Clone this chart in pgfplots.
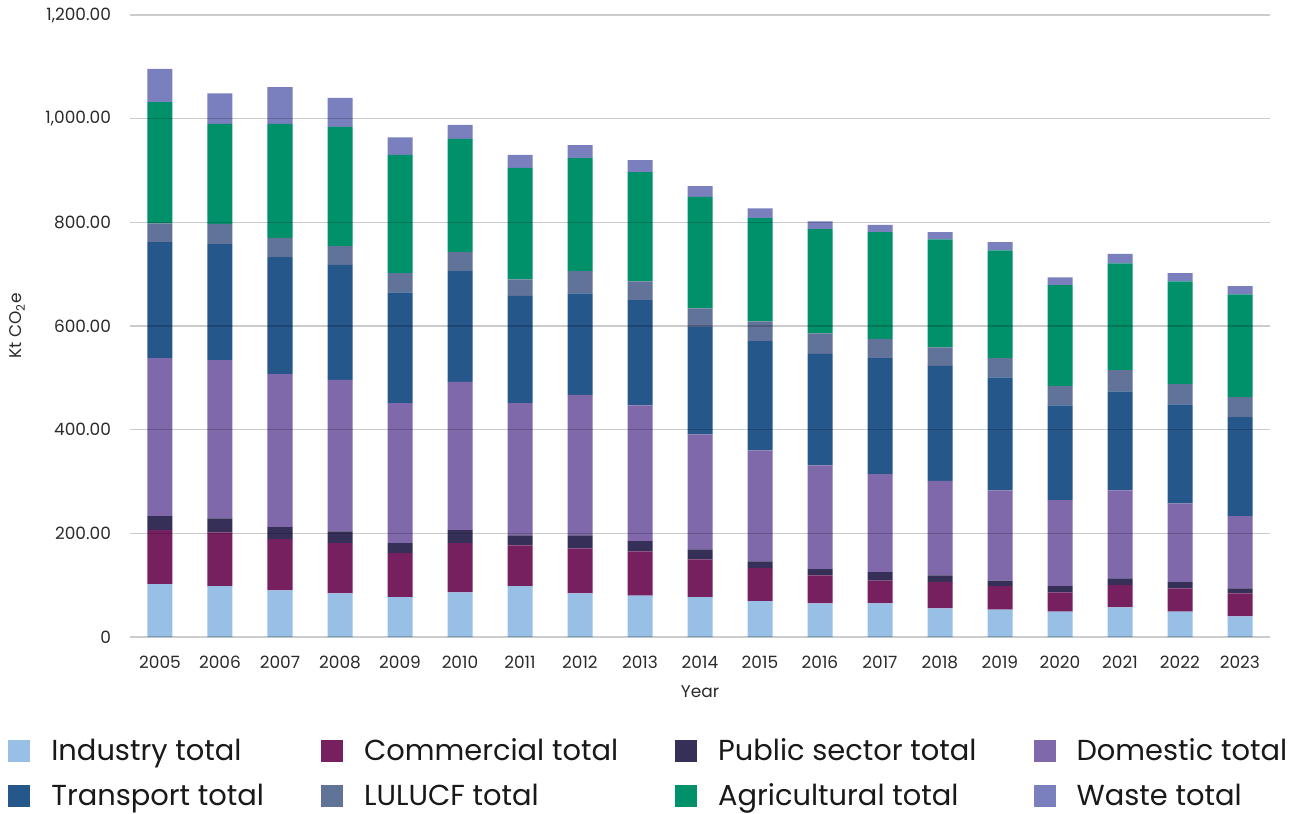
\documentclass[border=0pt]{standalone}
\usepackage{pgfplots}
\pgfplotsset{compat=1.18}
\usepackage{pgfplotstable}
\usepackage{fontspec}
\setmainfont{Poppins}

\definecolor{cInd}{HTML}{98C0E6}
\definecolor{cCom}{HTML}{77205F}
\definecolor{cPub}{HTML}{363059}
\definecolor{cDom}{HTML}{7F69AB}
\definecolor{cTra}{HTML}{26578B}
\definecolor{cLul}{HTML}{617399}
\definecolor{cAgr}{HTML}{00916B}
\definecolor{cWas}{HTML}{7A80BE}
\definecolor{txt}{HTML}{2A2A2A}

% Kt CO2e by sector
\pgfplotstableread{
year ind com pub dom tra lul agr was
2005 102 104 27 305 224 36 234 64
2006  98 104 27 305 224 39 193 59
2007  90  99 23 295 226 37 220 71
2008  84  97 23 292 222 36 230 56
2009  77  85 19 270 214 37 228 34
2010  86  95 25 286 214 37 218 27
2011  98  79 19 255 207 32 215 25
2012  84  87 25 271 196 43 218 25
2013  80  85 20 262 203 36 211 23
2014  77  73 19 222 207 36 215 21
2015  69  64 13 214 211 38 199 19
2016  65  54 12 200 215 40 201 15
2017  65  44 16 189 224 37 206 14
2018  55  51 13 182 222 36 208 14
2019  53  45 11 174 218 37 208 16
2020  49  37 12 166 183 37 195 15
2021  57  43 13 170 191 41 206 18
2022  49  45 12 152 191 39 198 16
2023  40  44 10 139 191 39 198 16
}\emis

\begin{document}
\begin{tikzpicture}
\begin{axis}[
  scale only axis,
  width=570bp, height=311bp,
  ybar stacked, bar width=12.5bp,
  xmin=2004.5, xmax=2023.5,
  ymin=0, ymax=1200,
  xtick={2005,...,2023},
  ytick={0,200,...,1200},
  yticklabels={0,200.00,400.00,600.00,800.00,{1,000.00},{1,200.00}},
  x tick label style={/pgf/number format/1000 sep={}, /pgf/number format/assume math mode=true},
  tick label style={font=\fontsize{8.5}{10}\selectfont, text=txt},
  xticklabel shift=6bp, yticklabel shift=6bp,
  axis line style={draw=none},
  tick style={draw=none},
  ymajorgrids,
  grid style={black, opacity=0.2, line width=0.7bp},
  axis on top,
  xlabel={Year}, ylabel={Kt CO\textsubscript{2}e},
  label style={font=\fontsize{8.5}{10}\selectfont, text=txt},
  xlabel style={yshift=-1.5bp},
  ylabel style={yshift=3.5bp},
  legend columns=4,
  legend cell align=left,
  legend image code/.code={\fill (0bp,-5.5bp) rectangle (11bp,5.5bp);},
  legend style={at={(axis description cs:0,0)}, anchor=north west,
    xshift=-61bp, yshift=-48.5bp, draw=none, inner sep=0pt,
    font=\fontsize{14.5}{17}\selectfont, text=black!90,
    /tikz/every odd column/.append style={column sep=8.5bp},
    /tikz/every even column/.append style={column sep=26.5bp},
    row sep=6.2bp},
]
\addplot+[fill=cInd, draw=none] table[x=year, y=ind]{\emis};
\addlegendentry{Industry total}
\addplot+[fill=cCom, draw=none] table[x=year, y=com]{\emis};
\addlegendentry{Commercial total}
\addplot+[fill=cPub, draw=none] table[x=year, y=pub]{\emis};
\addlegendentry{Public sector total}
\addplot+[fill=cDom, draw=none] table[x=year, y=dom]{\emis};
\addlegendentry{Domestic total}
\addplot+[fill=cTra, draw=none] table[x=year, y=tra]{\emis};
\addlegendentry{Transport total}
\addplot+[fill=cLul, draw=none] table[x=year, y=lul]{\emis};
\addlegendentry{LULUCF total}
\addplot+[fill=cAgr, draw=none] table[x=year, y=agr]{\emis};
\addlegendentry{Agricultural total}
\addplot+[fill=cWas, draw=none] table[x=year, y=was]{\emis};
\addlegendentry{Waste total}
\end{axis}
\pgfresetboundingbox
\path (current axis.south west) ++(-65bp,-88.5bp) rectangle ++(653bp,407bp);
\end{tikzpicture}
\end{document}
